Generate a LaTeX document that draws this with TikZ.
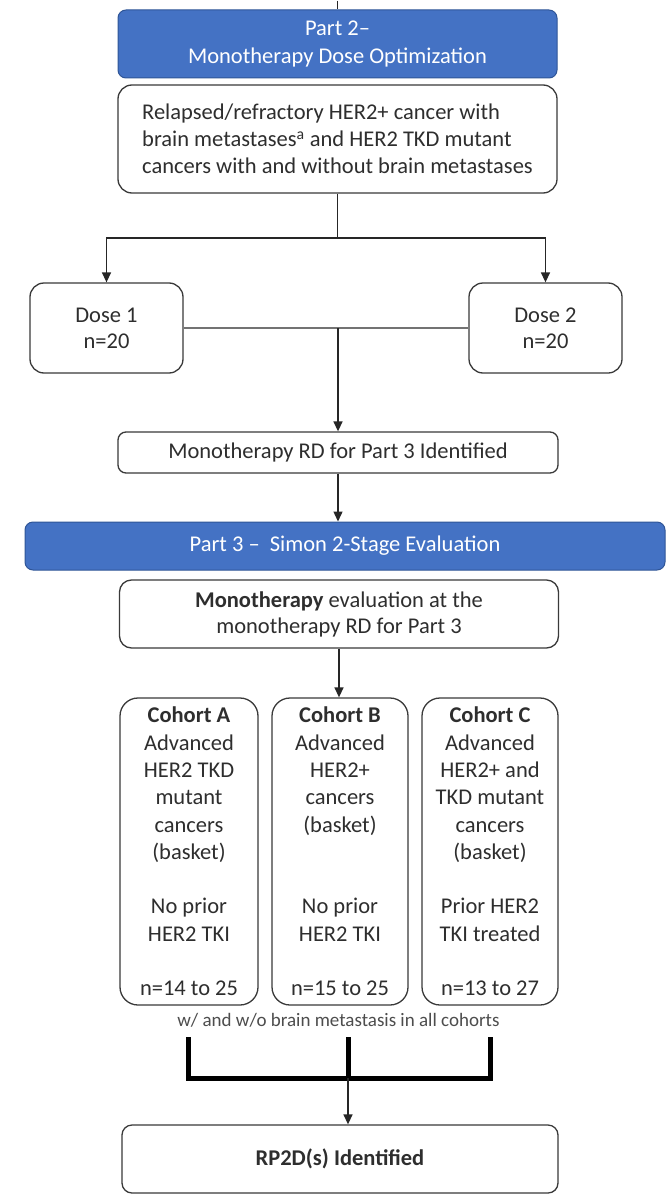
\documentclass[tikz,border=0pt]{standalone}
\usepackage{fontspec}
\setmainfont{Carlito}
\usetikzlibrary{arrows.meta}
\definecolor{hblue}{HTML}{4472C4}
\definecolor{hblueline}{HTML}{2F5597}
\definecolor{txt}{HTML}{2E2E2E}
\definecolor{edge}{HTML}{3A3A3A}
\begin{document}
\begin{tikzpicture}[x=1pt,y=-1pt,
  base/.style={font=\fontsize{22.5}{27.3}\selectfont, text=txt, inner sep=0pt, align=center},
  head/.style={base, draw=hblueline, fill=hblue, text=white, rounded corners=8pt, line width=1pt},
  box/.style={base, draw=edge, line width=1.3pt, fill=white},
  plain/.style={draw=black!85, line width=1.4pt},
  conn/.style={plain, -{Triangle[length=10pt,width=9pt]}},
  grayline/.style={draw=black!55, line width=1.4pt},
  bar/.style={draw=black, line width=5pt, line join=miter},
]
\useasboundingbox (0,0) rectangle (667,1196);
\fill[white] (0,0) rectangle (667,1196);

% Part 2
\node[head, font=\fontsize{22.5}{28}\selectfont, minimum width=439pt, minimum height=68pt] (p2) at (337.5,44) {Part 2–\\Monotherapy Dose Optimization};
\coordinate (top) at (337.5,1);
\draw[plain] (top) -- (p2.north);

\node[box, rounded corners=14pt, minimum width=439pt, minimum height=108pt, align=left, font=\fontsize{22.5}{27}\selectfont] (rel) at (337.5,139)
 {Relapsed/refractory HER2+ cancer with\\brain metastases\textsuperscript{a} and HER2 TKD mutant\\cancers with and without brain metastases};

% Doses
\node[box, rounded corners=14pt, minimum width=153pt, minimum height=90pt, font=\fontsize{22.5}{26}\selectfont] (d1) at (106.5,328) {Dose 1\\n=20};
\node[box, rounded corners=14pt, minimum width=153pt, minimum height=90pt, font=\fontsize{22.5}{26}\selectfont] (d2) at (545.5,328) {Dose 2\\n=20};
\coordinate (sp) at (337.5,238);
\draw[conn] (rel.south) -- (sp) -| (d1.north);
\draw[conn] (sp) -| (d2.north);

\node[box, rounded corners=8pt, minimum width=440pt, minimum height=41pt] (rd) at (338,452.5) {Monotherapy RD for Part 3 Identified};
\draw[grayline] (d1.east) -- (d2.west);
\coordinate (mid) at (338,328);
\draw[conn] (mid) -- (rd.north);

% Part 3
\node[head, minimum width=640pt, minimum height=48pt] (p3) at (345,546) {Part 3 –\ \ Simon 2-Stage Evaluation};
\draw[conn] (rd.south) -- (rd.south |- p3.north);

\node[box, rounded corners=12pt, minimum width=439pt, minimum height=68pt, font=\fontsize{22.5}{26}\selectfont] (ev) at (339,614) {\textbf{Monotherapy} evaluation at the\\monotherapy RD for Part 3};

% Cohorts
\node[box, rounded corners=18pt, minimum width=138pt, minimum height=307pt] (ca) at (189,851.5)
 {\textbf{Cohort A}\\Advanced\\HER2 TKD\\mutant\\cancers\\(basket)\\[27.3pt]No prior\\HER2 TKI\\[27.3pt]n=14 to 25};
\node[box, rounded corners=18pt, minimum width=136pt, minimum height=307pt] (cb) at (340,851.5)
 {\textbf{Cohort B}\\Advanced\\HER2+\\cancers\\(basket)\\[54.6pt]No prior\\HER2 TKI\\[27.3pt]n=15 to 25};
\node[box, rounded corners=18pt, minimum width=136pt, minimum height=307pt] (cc) at (490,851.5)
 {\textbf{Cohort C}\\Advanced\\HER2+ and\\TKD mutant\\cancers\\(basket)\\[27.3pt]Prior HER2\\TKI treated\\[27.3pt]n=13 to 27};
\draw[conn] (ev.south) -- (ev.south |- cb.north);

\node[font=\fontsize{19}{22}\selectfont, text=txt!85, inner sep=0pt] (cap) at (338.5,1020) {w/ and w/o brain metastasis in all cohorts};

% Merge bars
\coordinate (ta) at (188,1037);
\coordinate (tb) at (348,1037);
\coordinate (tc) at (490,1037);
\coordinate (ja) at (188,1078);
\coordinate (jb) at (348,1078);
\coordinate (jc) at (490,1078);
\draw[bar] (ta) -- (ja) -- (jc) -- (tc);
\draw[bar] (tb) -- (jb);

\node[box, rounded corners=10pt, minimum width=436pt, minimum height=68pt] (rp) at (340,1159) {\textbf{RP2D(s) Identified}};
\draw[conn] (jb) -- (jb |- rp.north);
\end{tikzpicture}
\end{document}
